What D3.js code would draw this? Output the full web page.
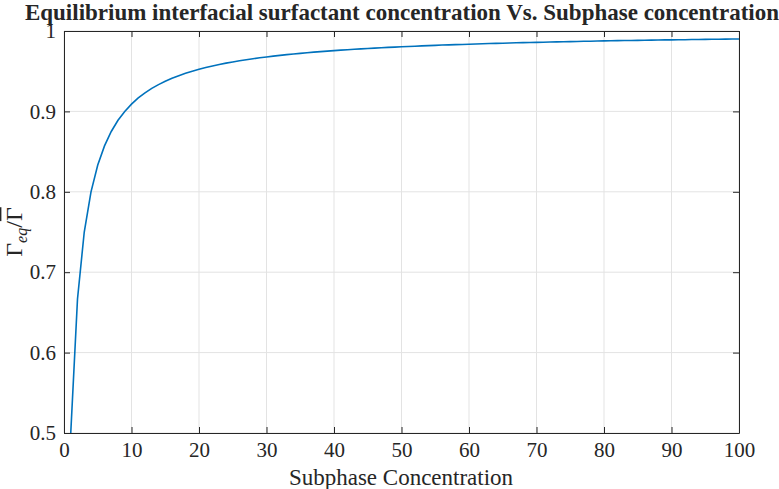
<!DOCTYPE html>
<html>
<head>
<meta charset="utf-8">
<script src="https://cdn.jsdelivr.net/npm/d3@7"></script>
<style>
  html, body { margin: 0; padding: 0; background: #fff; }
  svg { display: block; }
  text { font-family: "Liberation Serif", "DejaVu Serif", serif; fill: #262626; }
</style>
</head>
<body>
<svg id="chart" width="779" height="489"></svg>
<script>
// Subphase concentration samples
const concentration = d3.range(1, 101);
// Equilibrium interfacial surfactant concentration (normalised)
const coverage = [
  0.5000, 0.6667, 0.7500, 0.8000, 0.8333, 0.8571, 0.8750, 0.8889, 0.9000, 0.9091,
  0.9167, 0.9231, 0.9286, 0.9333, 0.9375, 0.9412, 0.9444, 0.9474, 0.9500, 0.9524,
  0.9545, 0.9565, 0.9583, 0.9600, 0.9615, 0.9630, 0.9643, 0.9655, 0.9667, 0.9677,
  0.9688, 0.9697, 0.9706, 0.9714, 0.9722, 0.9730, 0.9737, 0.9744, 0.9750, 0.9756,
  0.9762, 0.9767, 0.9773, 0.9778, 0.9783, 0.9787, 0.9792, 0.9796, 0.9800, 0.9804,
  0.9808, 0.9811, 0.9815, 0.9818, 0.9821, 0.9825, 0.9828, 0.9831, 0.9833, 0.9836,
  0.9839, 0.9841, 0.9844, 0.9846, 0.9848, 0.9851, 0.9853, 0.9855, 0.9857, 0.9859,
  0.9861, 0.9863, 0.9865, 0.9867, 0.9868, 0.9870, 0.9872, 0.9873, 0.9875, 0.9877,
  0.9878, 0.9880, 0.9881, 0.9882, 0.9884, 0.9885, 0.9886, 0.9888, 0.9889, 0.9890,
  0.9891, 0.9892, 0.9894, 0.9895, 0.9896, 0.9897, 0.9898, 0.9899, 0.9900, 0.9901
];
const xTicks = [0, 10, 20, 30, 40, 50, 60, 70, 80, 90, 100];
const yTicks = [0.5, 0.6, 0.7, 0.8, 0.9, 1];
const titleText = "Equilibrium interfacial surfactant concentration Vs. Subphase concentration";
const xLabelText = "Subphase Concentration";

const svg = d3.select("#chart");
const margin = { left: 64, right: 40, top: 31, bottom: 56 };
const W = 779, H = 489;
const innerW = W - margin.left - margin.right;
const innerH = H - margin.top - margin.bottom;

const x = d3.scaleLinear().domain([0, 100]).range([0, innerW]);
const y = d3.scaleLinear().domain([0.5, 1]).range([innerH, 0]);

const g = svg.append("g").attr("transform", `translate(${margin.left},${margin.top})`);

// grid
g.append("g").selectAll("line").data(xTicks).join("line")
  .attr("x1", d => x(d)).attr("x2", d => x(d))
  .attr("y1", 0).attr("y2", innerH)
  .attr("stroke", "#e3e3e3").attr("stroke-width", 1);
g.append("g").selectAll("line").data(yTicks).join("line")
  .attr("x1", 0).attr("x2", innerW)
  .attr("y1", d => y(d)).attr("y2", d => y(d))
  .attr("stroke", "#e3e3e3").attr("stroke-width", 1);

// curve
const clipId = "plot-clip";
svg.append("defs").append("clipPath").attr("id", clipId)
  .append("rect").attr("width", innerW).attr("height", innerH);
const pts = concentration.map((c, i) => [c, coverage[i]]);
g.append("path")
  .datum(pts)
  .attr("clip-path", `url(#${clipId})`)
  .attr("fill", "none")
  .attr("stroke", "#0072BD")
  .attr("stroke-width", 1.6)
  .attr("d", d3.line().x(d => x(d[0])).y(d => y(d[1])));

// axes with inward ticks on all four sides
const tickLen = 6;
const fmtY = d => (d === 1 ? "1" : d3.format(".1f")(d));
const axStyle = sel => {
  sel.select(".domain").attr("stroke", "#262626").attr("stroke-width", 1);
  sel.selectAll(".tick line").attr("stroke", "#262626");
  sel.selectAll(".tick text")
    .attr("font-family", "Liberation Serif, serif")
    .attr("font-size", 21).attr("fill", "#262626");
};
g.append("g").attr("transform", `translate(0,${innerH})`)
  .call(d3.axisBottom(x).tickValues(xTicks).tickSizeInner(-tickLen).tickSizeOuter(0).tickPadding(9))
  .call(axStyle);
g.append("g")
  .call(d3.axisTop(x).tickValues(xTicks).tickSizeInner(-tickLen).tickSizeOuter(0).tickFormat(""))
  .call(axStyle);
g.append("g")
  .call(d3.axisLeft(y).tickValues(yTicks).tickSizeInner(-tickLen).tickSizeOuter(0).tickPadding(8).tickFormat(fmtY))
  .call(axStyle);
g.append("g").attr("transform", `translate(${innerW},0)`)
  .call(d3.axisRight(y).tickValues(yTicks).tickSizeInner(-tickLen).tickSizeOuter(0).tickFormat(""))
  .call(axStyle);

// title
svg.append("text")
  .attr("x", 402).attr("y", 20)
  .attr("text-anchor", "middle")
  .attr("font-weight", "bold").attr("font-size", 23)
  .text(titleText);

// x label
svg.append("text")
  .attr("x", 401).attr("y", 485)
  .attr("text-anchor", "middle")
  .attr("font-size", 23)
  .text(xLabelText);

// y label: Γ_eq / Γ̄
const yl = svg.append("text")
  .attr("transform", `translate(22,232) rotate(-90)`)
  .attr("text-anchor", "middle")
  .attr("font-size", 24);
yl.append("tspan").text("Γ");
yl.append("tspan").attr("font-style", "italic").attr("font-size", 16).attr("dy", 5).text("eq");
yl.append("tspan").attr("dy", -5).text("/");
yl.append("tspan").attr("text-decoration", "overline").text("Γ");
</script>
</body>
</html>
